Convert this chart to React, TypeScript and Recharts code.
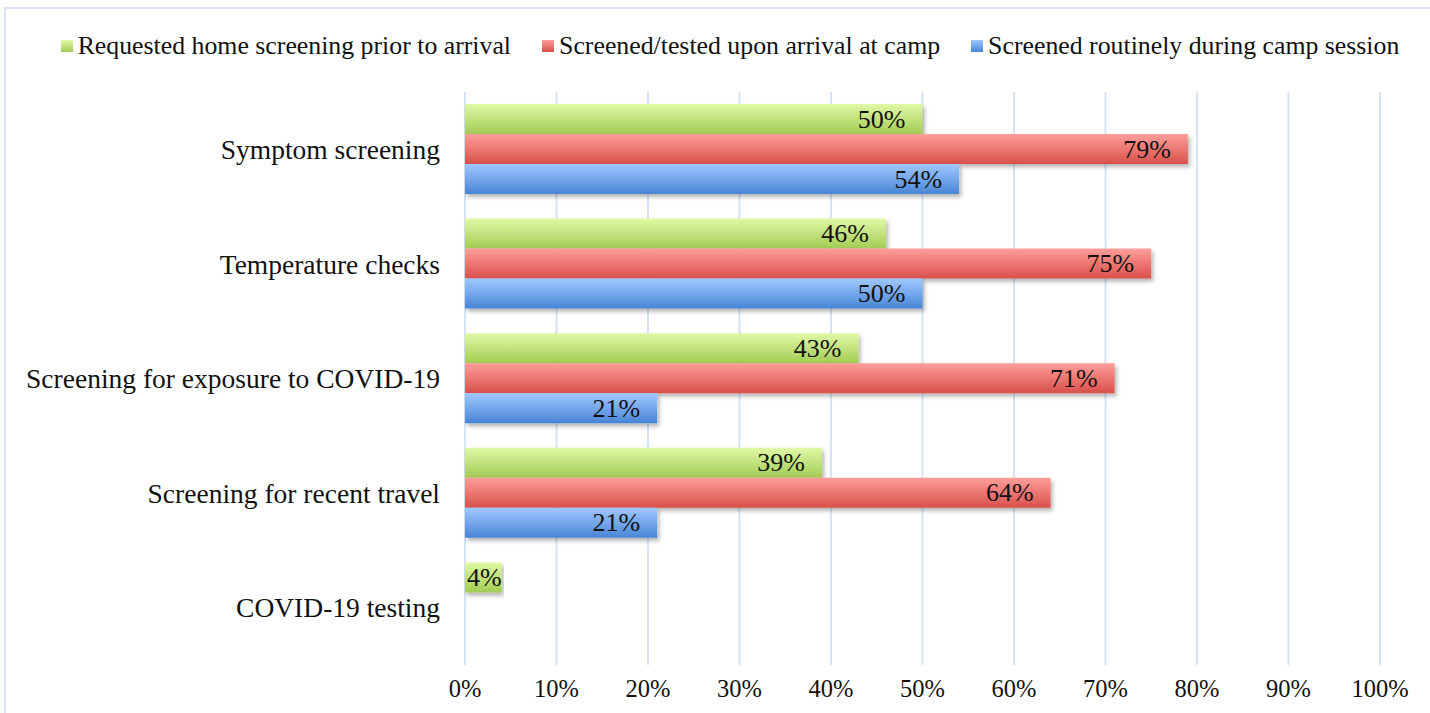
import { BarChart, Bar, XAxis, YAxis, CartesianGrid, Legend, LabelList } from "recharts";

const categories = [
  "Symptom screening",
  "Temperature checks",
  "Screening for exposure to COVID-19",
  "Screening for recent travel",
  "COVID-19 testing",
];
const homeScreening = [50, 46, 43, 39, 4];
const arrivalScreening = [79, 75, 71, 64, 0];
const routineScreening = [54, 50, 21, 21, 0];
const xTicks = [0, 10, 20, 30, 40, 50, 60, 70, 80, 90, 100];

const series = [
  { key: "home", name: "Requested home screening prior to arrival", top: "#e0f9a6", bottom: "#a3cb55" },
  { key: "arrival", name: "Screened/tested upon arrival at camp", top: "#ff9e9a", bottom: "#d8504a" },
  { key: "routine", name: "Screened routinely during camp session", top: "#a0c8ff", bottom: "#4885d5" },
];

const data = categories.map((name, i) => ({
  name,
  home: homeScreening[i],
  arrival: arrivalScreening[i],
  routine: routineScreening[i],
}));

const FONT = '"Liberation Serif", "Times New Roman", serif';

function renderValue(props: any) {
  const { x, y, width, height, value } = props;
  if (!value) return null;
  // short bars: Excel pushes the label to the start of the bar
  const narrow = width < 60;
  return (
    <text
      x={narrow ? x + 2 : x + width - 17}
      y={y + height / 2}
      textAnchor={narrow ? "start" : "end"}
      dominantBaseline="central"
      fontFamily={FONT}
      fontSize={26}
      fill="#111"
    >
      {value}%
    </text>
  );
}

function LegendBox() {
  return (
    <div style={{ display: "flex", justifyContent: "center", gap: 31, fontFamily: FONT, fontSize: 25.8, color: "#111" }}>
      {series.map((s) => (
        <div key={s.key} style={{ display: "flex", alignItems: "center", gap: 5 }}>
          <span
            style={{
              width: 12,
              height: 12,
              display: "inline-block",
              background: `linear-gradient(${s.top}, ${s.bottom})`,
            }}
          />
          <span>{s.name}</span>
        </div>
      ))}
    </div>
  );
}

export default function App() {
  return (
    <div style={{ position: "absolute", left: 0, top: 0, width: 1430, height: 713, background: "#fff", overflow: "hidden" }}>
      <div
        style={{
          position: "absolute",
          left: 4,
          top: 7,
          width: 1500,
          height: 800,
          borderLeft: "2px solid #d9e5f6",
          borderTop: "2px solid #d9e5f6",
        }}
      />
      <div style={{ position: "absolute", left: 0, top: 0 }}>
        <BarChart
          width={1430}
          height={713}
          data={data}
          layout="vertical"
          margin={{ top: 62, right: 50, left: 0, bottom: 0 }}
          barCategoryGap={12}
          barGap={0}
        >
          <defs>
            {series.map((s) => (
              <linearGradient key={s.key} id={`grad-${s.key}`} x1="0" y1="0" x2="0" y2="1">
                <stop offset="0%" stopColor={s.top} />
                <stop offset="100%" stopColor={s.bottom} />
              </linearGradient>
            ))}
            <filter id="shadow" x="-5%" y="-20%" width="110%" height="160%">
              <feDropShadow dx="2" dy="3" stdDeviation="2" floodColor="#000" floodOpacity="0.3" />
            </filter>
          </defs>
          <CartesianGrid horizontal={false} stroke="#d6e3f4" strokeWidth={2} />
          <XAxis
            type="number"
            domain={[0, 100]}
            ticks={xTicks}
            tickFormatter={(v) => `${v}%`}
            axisLine={false}
            tickLine={false}
            tickMargin={9}
            height={48}
            tick={{ fontFamily: FONT, fontSize: 24.5, fill: "#111" }}
          />
          <YAxis
            type="category"
            dataKey="name"
            width={465}
            axisLine={false}
            tickLine={false}
            tickMargin={19}
            interval={0}
            tick={{ fontFamily: FONT, fontSize: 27.5, fill: "#111" }}
          />
          <Legend verticalAlign="top" content={() => <LegendBox />} wrapperStyle={{ top: 31, left: 40 }} />
          {series.map((s) => (
            <Bar
              key={s.key}
              dataKey={s.key}
              name={s.name}
              fill={`url(#grad-${s.key})`}
              filter="url(#shadow)"
              isAnimationActive={false}
            >
              <LabelList dataKey={s.key} content={renderValue} />
            </Bar>
          ))}
        </BarChart>
      </div>
    </div>
  );
}
